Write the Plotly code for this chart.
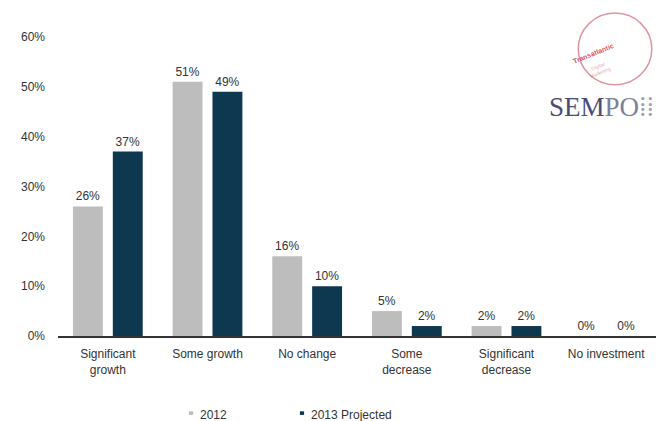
import plotly.graph_objects as go

categories = ["Significant<br>growth", "Some growth", "No change", "Some<br>decrease", "Significant<br>decrease", "No investment"]
values_2012 = [0.26, 0.51, 0.16, 0.05, 0.02, 0.00]
values_2013 = [0.37, 0.49, 0.10, 0.02, 0.02, 0.00]
labels_2012 = ["26%", "51%", "16%", "5%", "2%", "0%"]
labels_2013 = ["37%", "49%", "10%", "2%", "2%", "0%"]
y_ticks = [0, 0.1, 0.2, 0.3, 0.4, 0.5, 0.6]
y_tick_labels = ["0%", "10%", "20%", "30%", "40%", "50%", "60%"]
series_names = ["2012", "2013 Projected"]
series_colors = ["#BDBDBD", "#0E3750"]

font_family = "Liberation Sans, Arial, sans-serif"
text_color = "#333333"

fig = go.Figure()
for name, vals, labs, col in zip(series_names, [values_2012, values_2013],
                                 [labels_2012, labels_2013], series_colors):
    fig.add_trace(go.Bar(
        x=categories, y=vals, name=name,
        marker=dict(color=col, line=dict(width=0)),
        text=labs, textposition="outside", cliponaxis=False,
        textfont=dict(size=12, color=text_color, family=font_family),
        showlegend=False,
    ))

fig.update_layout(
    width=657, height=421,
    margin=dict(l=58, r=1, t=37, b=85, autoexpand=False),
    paper_bgcolor="white", plot_bgcolor="white",
    barmode="group", bargap=0.2, bargroupgap=0.25,
    font=dict(family=font_family, size=12, color=text_color),
    showlegend=False,
    xaxis=dict(showline=True, linecolor="#333333", linewidth=1.5, ticks="",
               ticklabelstandoff=6,
               tickfont=dict(size=12, color=text_color), showgrid=False),
    yaxis=dict(range=[0, 0.6], tickvals=y_ticks, ticktext=y_tick_labels, showgrid=False,
               zeroline=False, showline=False, ticks="", ticklabelstandoff=12,
               tickfont=dict(size=12, color=text_color)),
)

# Legend drawn manually (small square markers + labels)
legend_x = [0.2225, 0.408]
for name, col, lx in zip(series_names, series_colors, legend_x):
    fig.add_shape(type="rect", xref="paper", yref="paper",
                  x0=lx - 0.0035, x1=lx + 0.0035, y0=-0.264, y1=-0.252,
                  fillcolor=col, line=dict(width=0))
    fig.add_annotation(xref="paper", yref="paper", x=lx + 0.012, y=-0.264,
                       text=name, showarrow=False, xanchor="left", yanchor="middle",
                       font=dict(size=12, color=text_color, family=font_family))

# SEMPO logo approximation
fig.add_shape(type="circle", xref="paper", yref="paper",
              x0=0.87, x1=0.993, y0=0.84, y1=1.08,
              line=dict(color="rgba(200,60,80,0.55)", width=1.5))
fig.add_annotation(xref="paper", yref="paper", x=0.935, y=0.99, text="<b>Transatlantic</b>",
                   showarrow=False, textangle=-22,
                   font=dict(size=7, color="rgba(200,50,70,0.85)", family=font_family))
fig.add_annotation(xref="paper", yref="paper", x=0.93, y=0.935, text="Digital<br>Marketing",
                   showarrow=False, textangle=-22,
                   font=dict(size=5, color="rgba(200,60,80,0.5)", family=font_family))
fig.add_annotation(xref="paper", yref="paper", x=1.0, y=0.766,
                   text="<span style='color:#4A4C78'>SEM</span><span style='color:#7E7F9C'>PO</span>"
                        "<span style='color:#A0A0B4'>\u205E\u205E</span>",
                   showarrow=False, xanchor="right", yanchor="middle",
                   font=dict(size=27, color="#4A4C78", family="Liberation Serif, Times New Roman, serif"))

fig.write_html("out.html")
